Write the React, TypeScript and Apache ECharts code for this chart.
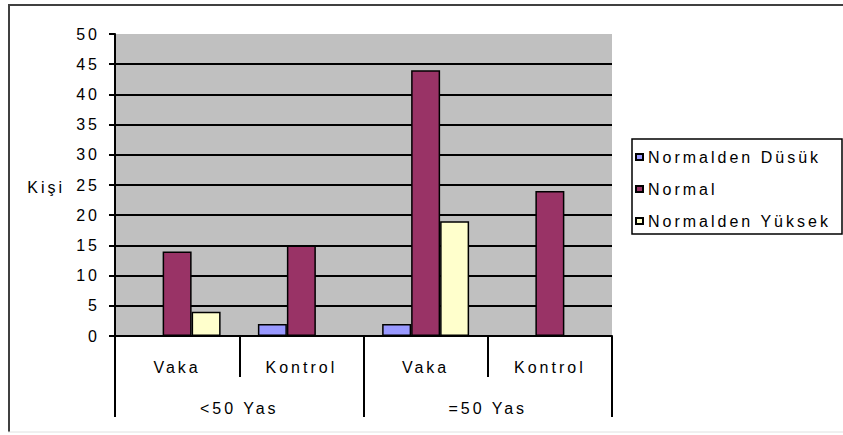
import React, { useEffect, useRef } from "react";
import * as echarts from "echarts";

// Two-level category axis: subgroups within age groups
const subCategories = ["Vaka", "Kontrol", "Vaka", "Kontrol"];
const ageGroups = ["<50 Yas", "=50 Yas"];

const seriesNames = ["Normalden Düsük", "Normal", "Normalden Yüksek"];
const dusukValues = [0, 2, 2, 0];
const normalValues = [14, 15, 44, 24];
const yuksekValues = [4, 0, 19, 0];

const yTicks = { min: 0, max: 50, interval: 5 };
const yAxisTitle = "Kişi";

const FONT = "'Liberation Sans', Arial, sans-serif";

export default function App() {
  const ref = useRef<HTMLDivElement>(null);

  useEffect(() => {
    if (!ref.current) return;
    const chart = echarts.init(ref.current, null, { renderer: "svg" });
    const colors = ["#9999FF", "#993366", "#FFFFCC"];
    const values = [dusukValues, normalValues, yuksekValues];

    chart.setOption({
      animation: false,
      backgroundColor: "#FFFFFF",
      textStyle: { fontFamily: FONT, color: "#000" },
      grid: {
        left: 115,
        right: 231,
        top: 34,
        bottom: 99,
        show: true,
        backgroundColor: "#C0C0C0",
        borderWidth: 0,
      },
      legend: {
        orient: "vertical",
        left: 635,
        top: 149,
        padding: 0,
        itemGap: 16,
        itemWidth: 7,
        itemHeight: 6,
        icon: "rect",
        textStyle: { fontFamily: FONT, fontSize: 16, color: "#000" },
        data: seriesNames,
      },
      xAxis: [
        {
          type: "category",
          data: subCategories,
          position: "bottom",
          axisLine: { show: true, lineStyle: { color: "#000", width: 2 } },
          axisTick: {
            show: true,
            interval: 0,
            length: 41,
            lineStyle: { color: "#000", width: 2 },
          },
          axisLabel: {
            interval: 0,
            margin: 23,
            fontSize: 16,
            fontFamily: FONT,
            color: "#000",
          },
          splitLine: { show: false },
        },
        {
          type: "category",
          data: ageGroups,
          position: "bottom",
          axisLine: { show: false },
          axisTick: {
            show: true,
            interval: 0,
            length: 81,
            lineStyle: { color: "#000", width: 2 },
          },
          axisLabel: {
            interval: 0,
            margin: 64,
            fontSize: 16,
            fontFamily: FONT,
            color: "#000",
          },
          splitLine: { show: false },
        },
      ],
      yAxis: {
        type: "value",
        min: yTicks.min,
        max: yTicks.max,
        interval: yTicks.interval,
        axisLine: { show: true, lineStyle: { color: "#000", width: 2 } },
        axisTick: { show: true, length: 6, lineStyle: { color: "#000", width: 2 } },
        axisLabel: { margin: 15, fontSize: 16, fontFamily: FONT, color: "#000" },
        splitLine: {
          show: true,
          showMaxLine: false,
          lineStyle: { color: "#000", width: 2 },
        },
      },
      series: seriesNames.map((name, i) => ({
        name,
        type: "bar",
        xAxisIndex: 0,
        data: values[i],
        barGap: "0%",
        barCategoryGap: "30%",
        itemStyle: { color: colors[i], borderColor: "#000", borderWidth: 1.5 },
      })),
      graphic: [
        // chart frame
        {
          type: "line",
          shape: { x1: 8, y1: 5, x2: 843, y2: 5 },
          style: { stroke: "#404040", lineWidth: 2 },
        },
        {
          type: "line",
          shape: { x1: 9, y1: 5, x2: 9, y2: 432 },
          style: { stroke: "#404040", lineWidth: 2 },
        },
        {
          type: "line",
          shape: { x1: 8, y1: 432, x2: 843, y2: 432 },
          style: { stroke: "#E0E0E0", lineWidth: 1 },
        },
        // legend frame
        {
          type: "rect",
          shape: { x: 632, y: 139, width: 210, height: 95 },
          style: { fill: "transparent", stroke: "#000", lineWidth: 1.5 },
          z: 1,
        },
        // y-axis title
        {
          type: "text",
          x: 65,
          y: 187,
          style: {
            text: yAxisTitle,
            fontFamily: FONT,
            fontSize: 16,
            fill: "#000",
            align: "right",
            verticalAlign: "middle",
          },
        },
      ],
    });

    return () => chart.dispose();
  }, []);

  return (
    <div
      ref={ref}
      style={{
        position: "fixed",
        left: 0,
        top: 0,
        width: 843,
        height: 435,
        letterSpacing: "3px",
      }}
    />
  );
}
